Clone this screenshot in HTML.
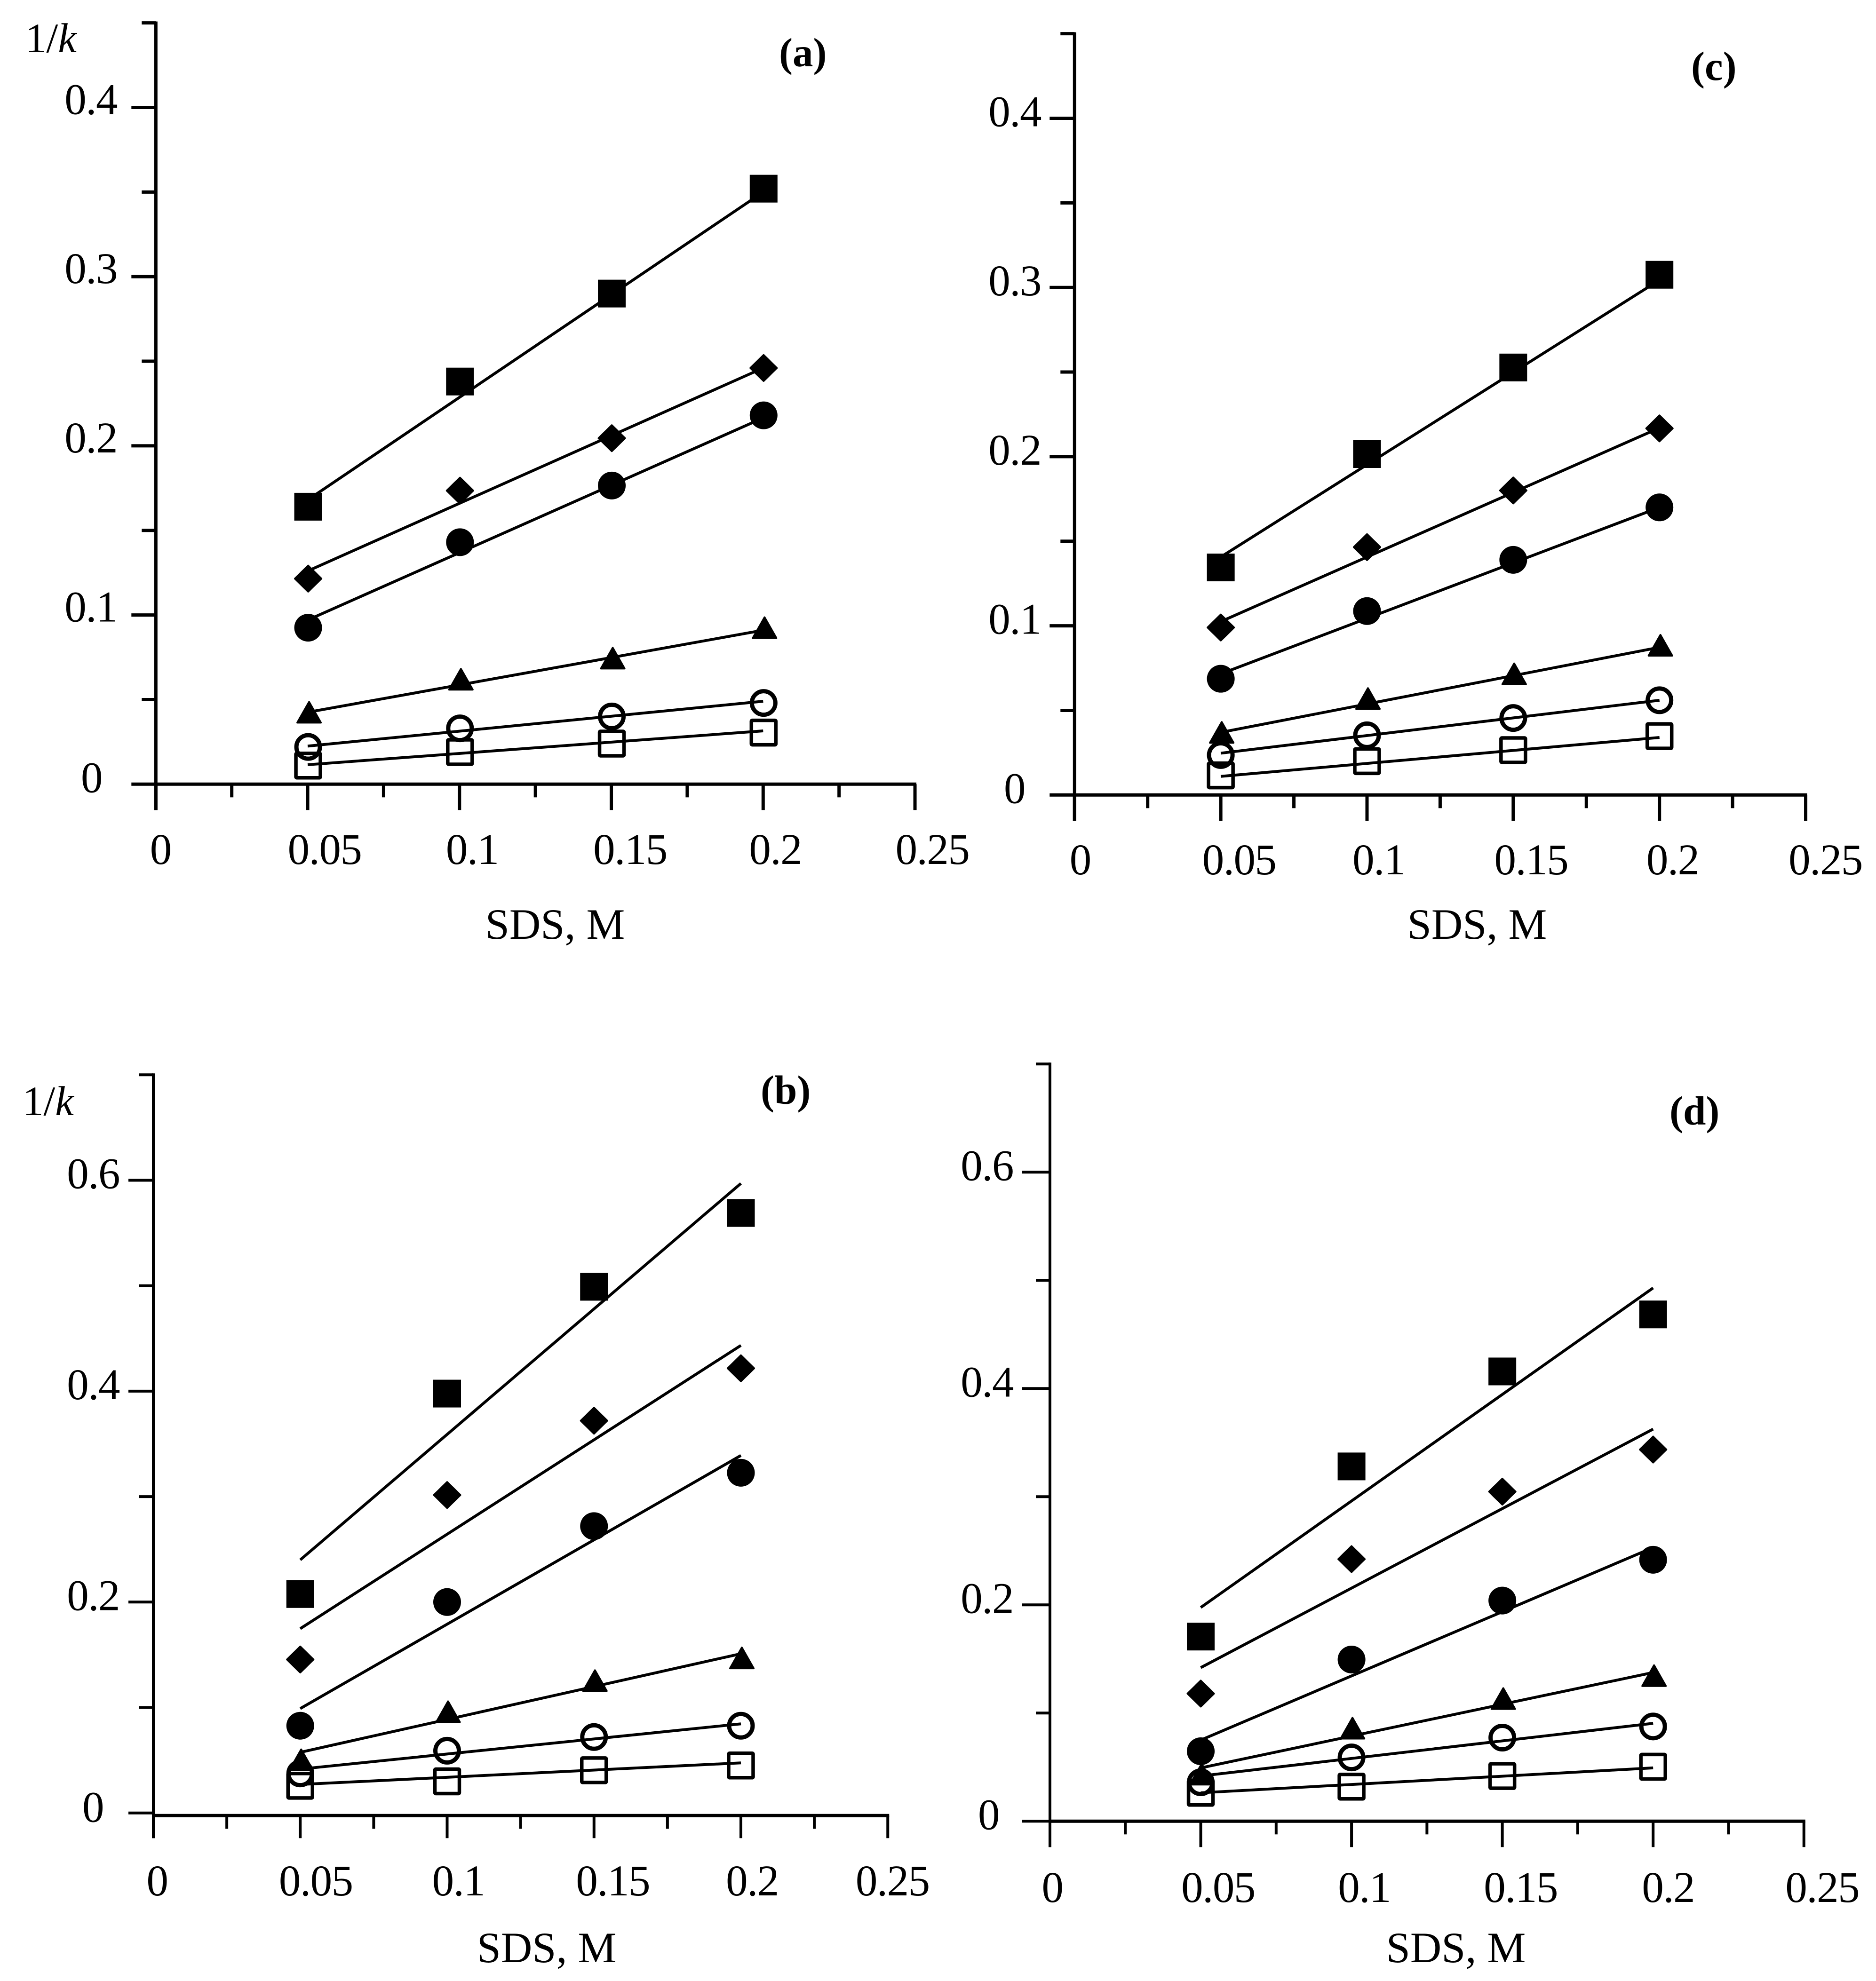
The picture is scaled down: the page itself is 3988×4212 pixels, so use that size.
<!DOCTYPE html>
<html lang="en">
<head>
<meta charset="utf-8">
<title>1/k versus SDS concentration</title>
<style>
html,body{margin:0;padding:0;background:#fff;}
svg{display:block;}
text{font-family:"Liberation Serif",serif;fill:#000;}
</style>
</head>
<body>
<svg id="figure" xmlns="http://www.w3.org/2000/svg" width="3988" height="4212" viewBox="0 0 3988 4212">
  <rect width="3988" height="4212" fill="#fff"/>
  <g id="panel-a">
    <text x="54" y="111" font-size="89">1/<tspan font-style="italic">k</tspan></text>
    <text x="1656" y="141" font-size="87" font-weight="bold">(a)</text>
    <text x="1180" y="1996" font-size="92" text-anchor="middle">SDS, M</text>
  </g>
  <g id="panel-b">
    <text x="48" y="2371" font-size="89">1/<tspan font-style="italic">k</tspan></text>
    <text x="1617" y="2347" font-size="87" font-weight="bold">(b)</text>
    <text x="1162" y="4172" font-size="92" text-anchor="middle">SDS, M</text>
  </g>
  <g id="panel-c">
    <text x="3595" y="170" font-size="87" font-weight="bold">(c)</text>
    <text x="3140" y="1996" font-size="92" text-anchor="middle">SDS, M</text>
  </g>
  <g id="panel-d">
    <text x="3549" y="2391" font-size="87" font-weight="bold">(d)</text>
    <text x="3095" y="4172" font-size="92" text-anchor="middle">SDS, M</text>
  </g>
</svg>
<script>
// ---- shared x data ----
const sdsValues = [0.05, 0.1, 0.15, 0.2];
const fitRange = [0.05, 0.2];
const xMajorTicks = [0, 0.05, 0.1, 0.15, 0.2, 0.25];
const xMinorTicks = [0.025, 0.075, 0.125, 0.175, 0.225];
const xTickLabels = ['0', '0.05', '0.1', '0.15', '0.2', '0.25'];

// ---- y ticks for top row (a, c) and bottom row (b, d) ----
const yMajorTicksTop = [0, 0.1, 0.2, 0.3, 0.4];
const yMinorTicksTop = [0.05, 0.15, 0.25, 0.35, 0.45];
const yTickLabelsTop = ['0', '0.1', '0.2', '0.3', '0.4'];
const yMajorTicksBottom = [0, 0.2, 0.4, 0.6];
const yMinorTicksBottom = [0.1, 0.3, 0.5, 0.7];
const yTickLabelsBottom = ['0', '0.2', '0.4', '0.6'];

// ---- panel (a) measured points ----
const aFilledSquare = [0.164, 0.238, 0.29, 0.352];
const aDiamond = [0.1215, 0.1735, 0.2045, 0.246];
const aFilledCircle = [0.0925, 0.143, 0.1765, 0.218];
const aTriangle = [0.0425, 0.062, 0.0745, 0.0925];
const aOpenCircle = [0.022, 0.033, 0.04, 0.048];
const aOpenSquare = [0.011, 0.019, 0.024, 0.0305];
// panel (a) fit-line end values
const aFitFilledSquare = [0.168, 0.35];
const aFitDiamond = [0.126, 0.246];
const aFitFilledCircle = [0.097, 0.2165];
const aFitTriangle = [0.0425, 0.091];
const aFitOpenCircle = [0.0225, 0.049];
const aFitOpenSquare = [0.0115, 0.0315];

// ---- panel (b) measured points ----
const bFilledSquare = [0.2076, 0.3977, 0.499, 0.569];
const bDiamond = [0.1455, 0.3015, 0.372, 0.4217];
const bFilledCircle = [0.0827, 0.2, 0.272, 0.3226];
const bTriangle = [0.0504, 0.096, 0.1255, 0.147];
const bOpenCircle = [0.0375, 0.059, 0.072, 0.0827];
const bOpenSquare = [0.0258, 0.03, 0.0405, 0.045];
// panel (b) fit-line end values
const bFitFilledSquare = [0.24, 0.597];
const bFitDiamond = [0.1748, 0.4434];
const bFitFilledCircle = [0.099, 0.339];
const bFitTriangle = [0.0575, 0.151];
const bFitOpenCircle = [0.0416, 0.0845];
const bFitOpenSquare = [0.027, 0.0475];

// ---- panel (c) measured points ----
const cFilledSquare = [0.1345, 0.2015, 0.2527, 0.3075];
const cDiamond = [0.099, 0.1465, 0.18, 0.2167];
const cFilledCircle = [0.0687, 0.1087, 0.139, 0.17];
const cTriangle = [0.037, 0.057, 0.0716, 0.0885];
const cOpenCircle = [0.0236, 0.0353, 0.0455, 0.056];
const cOpenSquare = [0.0116, 0.02, 0.0265, 0.0348];
// panel (c) fit-line end values
const cFitFilledSquare = [0.1407, 0.3044];
const cFitDiamond = [0.1025, 0.217];
const cFitFilledCircle = [0.0716, 0.17];
const cFitTriangle = [0.037, 0.0873];
const cFitOpenCircle = [0.0247, 0.056];
const cFitOpenSquare = [0.011, 0.034];

// ---- panel (d) measured points ----
const dFilledSquare = [0.1707, 0.328, 0.4158, 0.4685];
const dDiamond = [0.118, 0.2423, 0.3047, 0.3436];
const dFilledCircle = [0.0647, 0.1495, 0.204, 0.2417];
const dTriangle = [0.0435, 0.086, 0.1134, 0.1346];
const dOpenCircle = [0.036, 0.059, 0.0773, 0.0876];
const dOpenSquare = [0.0263, 0.032, 0.0418, 0.0504];
// panel (d) fit-line end values
const dFitFilledSquare = [0.1976, 0.493];
const dFitDiamond = [0.142, 0.3625];
const dFitFilledCircle = [0.075, 0.253];
const dFitTriangle = [0.0493, 0.1375];
const dFitOpenCircle = [0.0418, 0.0905];
const dFitOpenSquare = [0.0263, 0.0493];

const SVG_NS = 'http://www.w3.org/2000/svg';

function make(parent, tag, attrs) {
  const node = document.createElementNS(SVG_NS, tag);
  Object.keys(attrs).forEach(function (k) { node.setAttribute(k, attrs[k]); });
  parent.appendChild(node);
  return node;
}

function drawMarker(parent, kind, cx, cy) {
  let m;
  if (kind === 'filled-square') {
    m = make(parent, 'rect', { x: cx - 29.5, y: cy - 29.5, width: 59, height: 59, fill: '#000' });
  } else if (kind === 'diamond') {
    m = make(parent, 'polygon', { points: [cx, cy - 27.5, cx + 28, cy, cx, cy + 27.5, cx - 28, cy].join(' '), fill: '#000', stroke: '#000', 'stroke-width': 4, 'stroke-linejoin': 'round' });
  } else if (kind === 'filled-circle') {
    m = make(parent, 'circle', { cx: cx, cy: cy, r: 29.5, fill: '#000' });
  } else if (kind === 'triangle') {
    m = make(parent, 'polygon', { points: [cx + 2, cy - 22, cx + 27, cy + 22, cx - 23, cy + 22].join(' '), fill: '#000', stroke: '#000', 'stroke-width': 4, 'stroke-linejoin': 'round' });
  } else if (kind === 'open-circle') {
    m = make(parent, 'circle', { cx: cx, cy: cy, r: 25, fill: 'none', stroke: '#000', 'stroke-width': 9 });
  } else {
    m = make(parent, 'rect', { x: cx - 26, y: cy - 26, width: 52, height: 52, rx: 2, fill: 'none', stroke: '#000', 'stroke-width': 7.5, 'stroke-linejoin': 'round' });
  }
  return m;
}

function drawPanel(p) {
  const g = document.getElementById(p.id);
  const xAt = function (v) { return p.x0 + v * p.kx; };
  const yAt = function (v) { return p.y0 - v * p.ky; };
  const black = { stroke: '#000', fill: 'none' };

  // axes
  const yTop = yAt(p.yMinor[p.yMinor.length - 1] > p.yMajor[p.yMajor.length - 1] ? p.yMinor[p.yMinor.length - 1] : p.yMajor[p.yMajor.length - 1]);
  const yAxis = make(g, 'line', { x1: p.x0, x2: p.x0, y1: yTop - 3, y2: p.xAxisY + p.xMajorLen, stroke: black.stroke, 'stroke-width': p.yw });
  
  
  const xAxis = make(g, 'line', { x1: p.x0, x2: xAt(0.25) + 3, y1: p.xAxisY, y2: p.xAxisY, stroke: black.stroke, 'stroke-width': 7 });
  
  

  // y ticks
  p.yMajor.forEach(function (v, i) {
    const t = make(g, 'line', { x1: p.x0 - p.yMajorLen, x2: p.x0, y1: yAt(v), y2: yAt(v), stroke: black.stroke, 'stroke-width': p.yw });
    
    
    const isZero = v === 0;
    const lbl = make(g, 'text', { x: p.yLabelRight - (isZero ? p.yZeroShift : 0), y: yAt(v) + p.yLabelDrop + (isZero ? p.yZeroDrop : 0), 'font-size': 93, 'text-anchor': 'end', 'letter-spacing': -1.5 });
    lbl.textContent = p.yLabels[i];
    
    
  });
  p.yMinor.forEach(function (v) {
    const t = make(g, 'line', { x1: p.x0 - 30, x2: p.x0, y1: yAt(v), y2: yAt(v), stroke: black.stroke, 'stroke-width': p.yw });
    
    
  });

  // x ticks
  xMajorTicks.forEach(function (v, i) {
    const t = make(g, 'line', { x1: xAt(v), x2: xAt(v), y1: p.xAxisY, y2: p.xAxisY + p.xMajorLen, stroke: black.stroke, 'stroke-width': p.yw });
    
    
    const lbl = make(g, 'text', { x: xAt(v) + p.xLabelNudge[i], y: p.xLabelY, 'font-size': 93, 'text-anchor': 'middle', 'letter-spacing': -1.5 });
    lbl.textContent = xTickLabels[i];
    
    
  });
  xMinorTicks.forEach(function (v) {
    const t = make(g, 'line', { x1: xAt(v), x2: xAt(v), y1: p.xAxisY, y2: p.xAxisY + 28, stroke: black.stroke, 'stroke-width': p.yw });
    
    
  });

  // fit lines
  p.series.forEach(function (s) {
    const fit = make(g, 'line', { x1: xAt(fitRange[0]), y1: yAt(s.fit[0]), x2: xAt(fitRange[1]), y2: yAt(s.fit[1]), stroke: black.stroke, 'stroke-width': 6 });
    
    
  });

  // markers
  p.series.forEach(function (s) {
    s.values.forEach(function (v, i) {
      const m = drawMarker(g, s.kind, xAt(sdsValues[i]) + p.markerDx, yAt(v));
      
      
    });
  });
}

function seriesOf(fs, di, fc, tr, oc, os, ffs, fdi, ffc, ftr, foc, fos) {
  return [
    { kind: 'filled-square', values: fs, fit: ffs },
    { kind: 'diamond', values: di, fit: fdi },
    { kind: 'filled-circle', values: fc, fit: ffc },
    { kind: 'triangle', values: tr, fit: ftr },
    { kind: 'open-circle', values: oc, fit: foc },
    { kind: 'open-square', values: os, fit: fos }
  ];
}

drawPanel({
  id: 'panel-a', name: 'panel-a', x0: 331.3, kx: 6455, y0: 1667.3, ky: 3597, xAxisY: 1667.3, yw: 7, markerDx: 1,
  yMajorLen: 52, xMajorLen: 55, yLabelRight: 249, yZeroShift: 32, yLabelDrop: 14, yZeroDrop: 3, xLabelY: 1837,
  xLabelNudge: [10, 36, 27, 40, 26, 37],
  yMajor: yMajorTicksTop, yMinor: yMinorTicksTop, yLabels: yTickLabelsTop,
  series: seriesOf(aFilledSquare, aDiamond, aFilledCircle, aTriangle, aOpenCircle, aOpenSquare,
    aFitFilledSquare, aFitDiamond, aFitFilledCircle, aFitTriangle, aFitOpenCircle, aFitOpenSquare)
});
drawPanel({
  id: 'panel-b', name: 'panel-b', x0: 326, kx: 6245, y0: 3854.7, ky: 2242, xAxisY: 3860.3, yw: 6, markerDx: 0,
  yMajorLen: 53, xMajorLen: 48, yLabelRight: 254, yZeroShift: 34, yLabelDrop: 17, yZeroDrop: 2, xLabelY: 4030,
  xLabelNudge: [8, 33, 24, 40, 24, 10],
  yMajor: yMajorTicksBottom, yMinor: yMinorTicksBottom, yLabels: yTickLabelsBottom,
  series: seriesOf(bFilledSquare, bDiamond, bFilledCircle, bTriangle, bOpenCircle, bOpenSquare,
    bFitFilledSquare, bFitDiamond, bFitFilledCircle, bFitTriangle, bFitOpenCircle, bFitOpenSquare)
});
drawPanel({
  id: 'panel-c', name: 'panel-c', x0: 2284.3, kx: 6217, y0: 1690.3, ky: 3597, xAxisY: 1690.3, yw: 7, markerDx: 0,
  yMajorLen: 53, xMajorLen: 55, yLabelRight: 2213, yZeroShift: 34, yLabelDrop: 17, yZeroDrop: 0, xLabelY: 1859,
  xLabelNudge: [12, 39, 25, 38, 28, 42],
  yMajor: yMajorTicksTop, yMinor: yMinorTicksTop, yLabels: yTickLabelsTop,
  series: seriesOf(cFilledSquare, cDiamond, cFilledCircle, cTriangle, cOpenCircle, cOpenSquare,
    cFitFilledSquare, cFitDiamond, cFitFilledCircle, cFitTriangle, cFitOpenCircle, cFitOpenSquare)
});
drawPanel({
  id: 'panel-d', name: 'panel-d', x0: 2232, kx: 6411, y0: 3872.3, ky: 2300, xAxisY: 3872.3, yw: 6, markerDx: 0,
  yMajorLen: 59, xMajorLen: 55, yLabelRight: 2154, yZeroShift: 30, yLabelDrop: 17, yZeroDrop: 0, xLabelY: 4044,
  xLabelNudge: [5, 37, 27, 39, 32, 39],
  yMajor: yMajorTicksBottom, yMinor: yMinorTicksBottom, yLabels: yTickLabelsBottom,
  series: seriesOf(dFilledSquare, dDiamond, dFilledCircle, dTriangle, dOpenCircle, dOpenSquare,
    dFitFilledSquare, dFitDiamond, dFitFilledCircle, dFitTriangle, dFitOpenCircle, dFitOpenSquare)
});
</script>
</body>
</html>
